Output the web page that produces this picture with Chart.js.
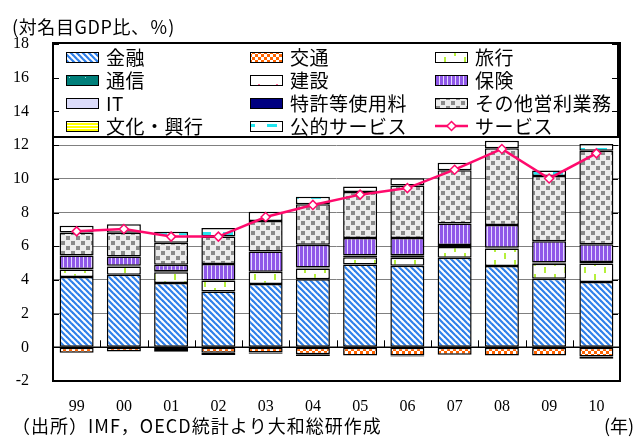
<!DOCTYPE html>
<html>
<head>
<meta charset="utf-8">
<script src="https://cdn.jsdelivr.net/npm/chart.js@4"></script>
<style>
html, body { margin: 0; padding: 0; background: #fff; }
#wrap { width: 640px; height: 438px; }
</style>
</head>
<body>
<div id="wrap"><canvas id="chart" width="640" height="438"></canvas></div>
<script>
const years = ['99', '00', '01', '02', '03', '04', '05', '06', '07', '08', '09', '10'];

// 対名目GDP比、%
const kinyu    = [4.17, 4.31, 3.82, 3.31, 3.76, 4.04, 4.92, 4.84, 5.32, 4.82, 4.07, 3.87];
const kotsu    = [-0.33, -0.25, -0.10, -0.33, -0.31, -0.41, -0.49, -0.49, -0.44, -0.48, -0.48, -0.54];
const ryoko    = [0.44, 0.49, 0.63, 0.65, 0.73, 0.63, 0.43, 0.47, 0.63, 1.05, 0.89, 1.11];
const tsushin  = [null, null, null, null, null, 0.06, 0.10, 0.16, 0.12, null, null, null];
const kensetsu = [0.04, 0.04, 0.06, null, null, null, null, null, null, 0.04, 0.08, 0.08];
const hoken    = [0.80, 0.55, 0.39, 0.98, 1.20, 1.35, 1.04, 1.02, 1.27, 1.35, 1.25, 1.05];
const it       = [null, null, null, null, null, null, null, null, null, null, null, null];
const tokkyo   = [null, null, -0.16, -0.12, -0.08, -0.10, null, -0.06, null, null, null, -0.14];
const sonota   = [1.36, 1.41, 1.31, 1.63, 1.80, 2.41, 2.72, 3.11, 3.17, 4.56, 3.87, 5.56];
const bunka    = [null, null, null, null, null, null, null, null, null, null, null, null];
const koteki   = [0.41, 0.51, 0.65, 0.51, 0.55, 0.45, 0.33, 0.43, 0.44, 0.44, 0.34, 0.40];
const service  = [6.88, 7.02, 6.57, 6.57, 7.73, 8.45, 9.06, 9.45, 10.54, 11.77, 10.02, 11.51];

const yTicks = [-2, 0, 2, 4, 6, 8, 10, 12, 14, 16, 18];

const canvas = document.getElementById('chart');
const ctx = canvas.getContext('2d');

function makePattern(w, h, draw) {
    const c = document.createElement('canvas');
    c.width = w;
    c.height = h;
    draw(c.getContext('2d'), w, h);
    return ctx.createPattern(c, 'repeat');
}

const patKinyu = makePattern(6, 6, (g, w, h) => {
    g.fillStyle = '#fff';
    g.fillRect(0, 0, w, h);
    g.strokeStyle = '#2f80ea';
    g.lineWidth = 2.2;
    [-6, 0, 6].forEach(o => {
        g.beginPath();
        g.moveTo(o - 1, -1);
        g.lineTo(o + 7, 7);
        g.stroke();
    });
});
const patKotsu = makePattern(6, 6, (g) => {
    g.fillStyle = '#ff6400';
    g.fillRect(0, 0, 6, 6);
    g.fillStyle = '#fff';
    g.fillRect(0, 0, 3, 3);
    g.fillRect(3, 3, 3, 3);
});
const patRyoko = makePattern(20, 14, (g) => {
    g.fillStyle = '#fff';
    g.fillRect(0, 0, 20, 14);
    g.fillStyle = '#b6f03c';
    g.fillRect(4, 1, 2, 6);
    g.fillRect(14, 8, 2, 6);
});
const patTsushin = makePattern(16, 8, (g) => {
    g.fillStyle = '#007f7a';
    g.fillRect(0, 0, 16, 8);
    g.fillStyle = '#9fe0d8';
    g.fillRect(5, 5, 1, 1);
});
const patKensetsu = makePattern(18, 10, (g) => {
    g.fillStyle = '#fff';
    g.fillRect(0, 0, 18, 10);
    g.fillStyle = '#ff6699';
    g.fillRect(6, 4, 2, 2);
});
const patHoken = makePattern(4, 1, (g) => {
    g.fillStyle = '#8f58e8';
    g.fillRect(0, 0, 4, 1);
    g.fillStyle = '#e4d8ff';
    g.fillRect(3, 0, 1, 1);
});
const patIt = '#dcdcfa';
const patTokkyo = '#000080';
const patSonota = makePattern(10, 10, (g) => {
    g.fillStyle = '#ececec';
    g.fillRect(0, 0, 10, 10);
    g.fillStyle = '#8a8a8a';
    g.fillRect(1, 1, 4, 4);
    g.fillRect(6, 6, 4, 4);
});
const patBunka = makePattern(1, 3, (g) => {
    g.fillStyle = '#ffff00';
    g.fillRect(0, 0, 1, 3);
    g.fillStyle = '#fff';
    g.fillRect(0, 2, 1, 1);
});
const patKoteki = makePattern(22, 12, (g) => {
    g.fillStyle = '#fff';
    g.fillRect(0, 0, 22, 12);
    g.fillStyle = '#22e6f0';
    g.fillRect(3, 4, 10, 3);
});

const seriesNames = ['金融', '交通', '旅行', '通信', '建設', '保険', 'IT', '特許等使用料', 'その他営利業務', '文化・興行', '公的サービス'];
const seriesData = [kinyu, kotsu, ryoko, tsushin, kensetsu, hoken, it, tokkyo, sonota, bunka, koteki];
const seriesFill = [patKinyu, patKotsu, patRyoko, patTsushin, patKensetsu, patHoken, patIt, patTokkyo, patSonota, patBunka, patKoteki];
const lineColor = '#ff0a6c';

const serif = '"Liberation Serif", "Noto Sans CJK JP", serif';
const jp = '"Noto Sans CJK JP", "Liberation Serif", sans-serif';

const datasets = seriesNames.map((name, i) => ({
    type: 'bar',
    label: name,
    data: seriesData[i],
    backgroundColor: seriesFill[i],
    borderColor: '#000',
    borderWidth: 1.5,
    borderSkipped: false,
    order: 1
}));
datasets.push({
    type: 'line',
    label: 'サービス',
    data: service,
    borderColor: lineColor,
    borderWidth: 2.5,
    pointStyle: 'rectRot',
    pointRadius: 4.5,
    pointBackgroundColor: '#fff',
    pointBorderColor: lineColor,
    pointBorderWidth: 1.5,
    tension: 0,
    order: 0
});

const decor = {
    id: 'decor',
    afterDatasetsDraw(chart) {
        const { ctx, chartArea: a, scales } = chart;
        const y0 = scales.y.getPixelForValue(0);
        ctx.save();
        ctx.strokeStyle = '#000';
        ctx.lineWidth = 1.5;
        ctx.beginPath();
        ctx.moveTo(a.left, y0);
        ctx.lineTo(a.right, y0);
        ctx.stroke();
        // category tick marks above the zero line
        const step = (a.right - a.left) / years.length;
        ctx.lineWidth = 1;
        for (let k = 1; k < years.length; k++) {
            const x = Math.round(a.left + step * k) + 0.5;
            ctx.beginPath();
            ctx.moveTo(x, y0 - 7);
            ctx.lineTo(x, y0);
            ctx.stroke();
        }
        ctx.restore();
    },
    afterDraw(chart) {
        const { ctx, chartArea: a, scales } = chart;
        ctx.save();

        // legend box
        const lx = a.left, ly = a.top - 1, lw = 565, lh = 94;
        ctx.fillStyle = '#fff';
        ctx.fillRect(lx, ly, lw, lh);
        ctx.strokeStyle = '#000';
        ctx.lineWidth = 2;
        ctx.strokeRect(lx, ly, lw, lh);

        const colX = [66, 250, 435];
        const rowY = [57, 80, 103, 126];
        const items = seriesNames.map((n, i) => ({ name: n, fill: seriesFill[i] }));
        items.push({ name: 'サービス', line: true });
        ctx.font = '19px ' + jp;
        ctx.textBaseline = 'middle';
        ctx.textAlign = 'left';
        items.forEach((it, i) => {
            const x = colX[i % 3];
            const y = rowY[Math.floor(i / 3)];
            if (it.line) {
                ctx.strokeStyle = lineColor;
                ctx.lineWidth = 2.5;
                ctx.beginPath();
                ctx.moveTo(x, y);
                ctx.lineTo(x + 33, y);
                ctx.stroke();
                ctx.fillStyle = '#fff';
                ctx.lineWidth = 1.5;
                ctx.beginPath();
                ctx.moveTo(x + 16.5, y - 4.5);
                ctx.lineTo(x + 21, y);
                ctx.lineTo(x + 16.5, y + 4.5);
                ctx.lineTo(x + 12, y);
                ctx.closePath();
                ctx.fill();
                ctx.stroke();
            } else {
                ctx.fillStyle = it.fill;
                ctx.fillRect(x, y - 5, 33, 10);
                ctx.strokeStyle = '#000';
                ctx.lineWidth = 1;
                ctx.strokeRect(x + 0.5, y - 4.5, 32, 10);
            }
            ctx.fillStyle = '#000';
            ctx.letterSpacing = '0.5px';
            ctx.fillText(it.name, x + 40, y + 1);
        });

        // plot frame
        ctx.strokeStyle = '#000';
        ctx.lineWidth = 2;
        ctx.strokeRect(a.left, a.top - 1, a.right - a.left, a.bottom - a.top + 1);

        // inside tick marks on both sides
        ctx.lineWidth = 1;
        yTicks.forEach(v => {
            const y = Math.round(scales.y.getPixelForValue(v)) + 0.5;
            ctx.beginPath();
            ctx.moveTo(a.left, y);
            ctx.lineTo(a.left + 6, y);
            ctx.moveTo(a.left + lw - 6, y);
            ctx.lineTo(a.left + lw, y);
            ctx.stroke();
        });

        // texts
        ctx.fillStyle = '#000';
        ctx.font = '18px ' + jp;
        ctx.textAlign = 'left';
        ctx.letterSpacing = '0.6px';
        ctx.fillText('(対名目GDP比、％)', 12, 27);
        ctx.letterSpacing = '1px';
        ctx.fillText('（出所）IMF，OECD統計より大和総研作成', 12, 426);
        ctx.letterSpacing = '0px';
        ctx.fillText('(年)', 604, 426);
        ctx.restore();
    }
};

new Chart(canvas, {
    data: { labels: years, datasets: datasets },
    options: {
        responsive: false,
        devicePixelRatio: 1,
        animation: false,
        layout: { padding: { top: 44, right: 20, bottom: 0, left: 0 } },
        plugins: {
            legend: { display: false },
            tooltip: { enabled: false }
        },
        scales: {
            x: {
                stacked: true,
                offset: true,
                grid: { display: false, drawTicks: false },
                border: { display: false },
                categoryPercentage: 1,
                barPercentage: 0.68,
                ticks: { color: '#000', font: { size: 16, family: serif }, padding: 16, maxRotation: 0 },
                afterFit: s => { s.height = 57; }
            },
            y: {
                stacked: true,
                min: -2,
                max: 18,
                grid: {
                    drawTicks: false,
                    color: c => (c.tick && c.tick.value === 0 ? '#000' : '#808080'),
                    lineWidth: 1
                },
                border: { display: false },
                ticks: {
                    stepSize: 2,
                    color: '#000',
                    padding: 24,
                    font: { size: 16, family: serif }
                },
                afterFit: s => { s.width = 53; }
            }
        }
    },
    plugins: [decor]
});
</script>
</body>
</html>
